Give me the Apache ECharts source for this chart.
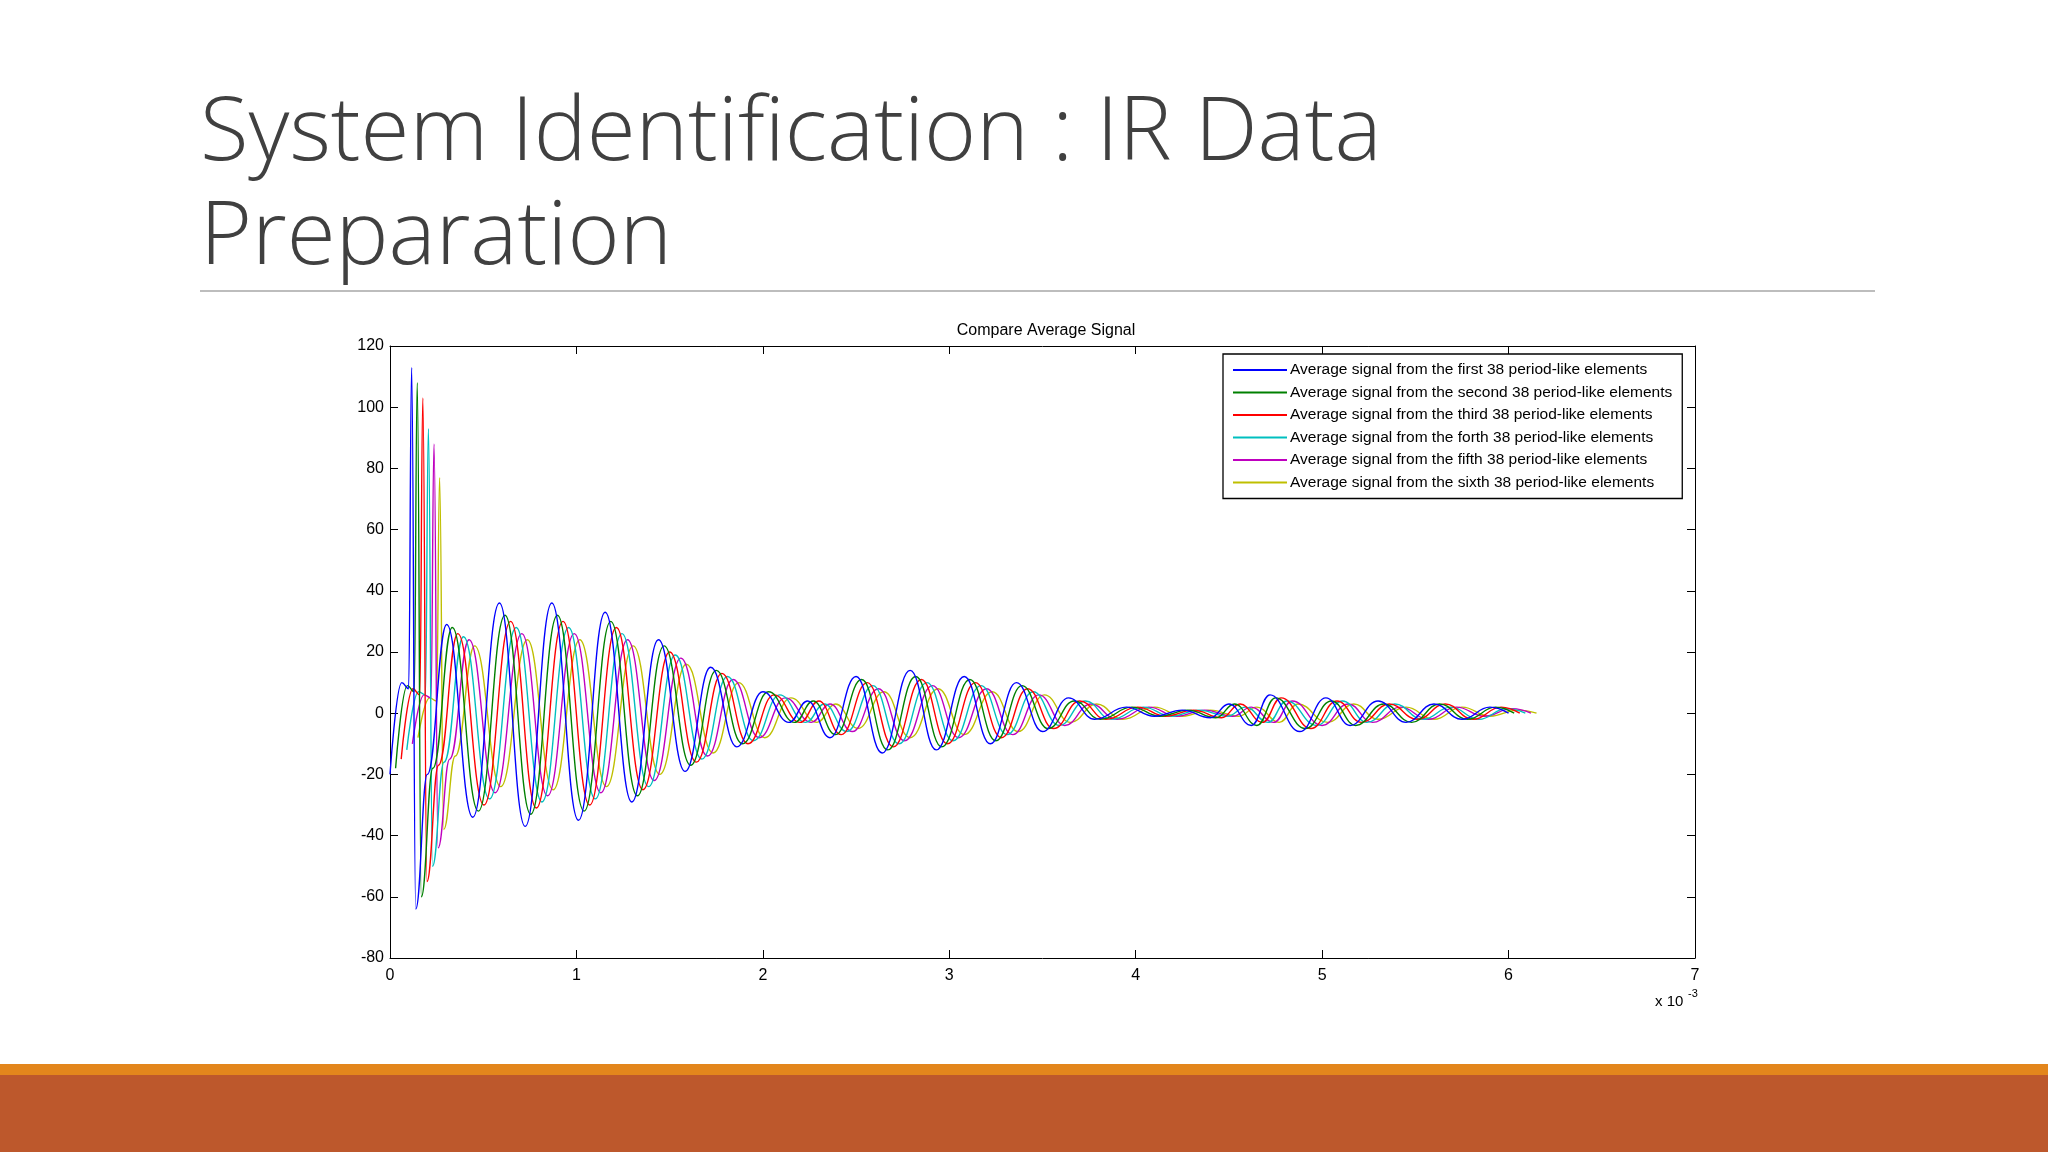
<!DOCTYPE html>
<html><head><meta charset="utf-8">
<script src="https://cdn.jsdelivr.net/npm/echarts@6/dist/echarts.min.js"></script>
<style>
html,body{margin:0;padding:0;background:#fff;width:2048px;height:1152px;overflow:hidden;position:relative;font-family:Lato,"Open Sans",sans-serif}
#t{position:absolute;left:200px;top:74px;font-size:89px;line-height:104px;color:#404040;font-weight:300;font-family:"Open Sans",Lato,sans-serif}
#hr{position:absolute;left:200px;top:290px;width:1675px;height:2px;background:#bdbdbd}
#b1{position:absolute;left:0;top:1064px;width:2048px;height:11px;background:#e3861c}
#b2{position:absolute;left:0;top:1075px;width:2048px;height:77px;background:#bd582c}
#c{position:absolute;left:0;top:0;width:2048px;height:1064px}
</style></head><body>
<div id="t">System Identification : IR Data<br>Preparation</div>
<div id="hr"></div>
<div id="c"></div>
<div id="b1"></div><div id="b2"></div>
<script>
const seriesNames = [
 "Average signal from the first 38 period-like elements",
 "Average signal from the second 38 period-like elements",
 "Average signal from the third 38 period-like elements",
 "Average signal from the forth 38 period-like elements",
 "Average signal from the fifth 38 period-like elements",
 "Average signal from the sixth 38 period-like elements"];
const colors = ["#0000ff","#008000","#ff0000","#00bfbf","#bf00bf","#bfbf00"];
const times = [0,0.063,0.10,0.116,0.138,0.2,0.304,0.444,0.587,0.725,0.868,1.011,1.154,1.297,1.44,1.583,1.72,1.86,2.0,2.14,2.24,2.36,2.5,2.64,2.79,2.93,3.08,3.22,3.36,3.5,3.64,3.78,3.95,4.1,4.25,4.4,4.5,4.62,4.72,4.88,5.02,5.15,5.3,5.45,5.6,5.75,5.9,6.0];
const timeOffsets = [0,0.03,0.06,0.09,0.12,0.15];
const blue = [-20,10,8,113,-64,-20,29,-34,36,-37,36,-35,33,-29,24,-19,15,-11,7,-3,4,-8,12,-13,14,-12,12,-10,10,-6,5,-2,2,-1,1,-1.5,3,-4,6,-6,5,-4,4,-3,3,-2,2,0];
const green = [-18,9,7,108,-60,-18,28,-32,32,-33,32,-32,30,-27,22,-17,14,-10,7,-3,4,-7,11,-12,12,-11,11,-9,9,-5,4,-2,2,-1,1,-1.5,3,-4,5,-5,4,-4,3,-3,3,-2,2,0];
const red = [-15,8,6,103,-55,-17,26,-30,30,-31,30,-30,28,-25,20,-16,13,-10,6,-3,4,-7,10,-11,11,-10,10,-8,8,-5,4,-2,2,-1,1,-1.5,3,-3,5,-5,4,-3,3,-2,3,-2,2,0];
const cyan = [-12,7,6,93,-50,-16,25,-28,28,-29,28,-28,26,-24,19,-15,12,-9,6,-3,3,-6,9,-10,10,-9,9,-7,7,-4,4,-2,2,-1,1,-1,2,-3,4,-4,4,-3,3,-2,2,-2,1.5,0];
const magenta = [-10,6,5,88,-44,-15,24,-26,26,-27,26,-26,24,-22,18,-14,11,-8,5,-3,3,-6,8,-9,9,-8,8,-7,6,-4,3,-2,2,-1,1,-1,2,-3,4,-4,3,-3,2,-2,2,-1,1.5,0];
const yellow = [-8,5,4,77,-38,-14,22,-24,24,-25,24,-24,22,-20,16,-13,10,-8,5,-3,3,-5,7,-8,8,-7,7,-6,6,-3,3,-2,2,-1,1,-1,2,-3,3,-3,3,-2,2,-2,2,-1,1,0];
const allValues = [blue,green,red,cyan,magenta,yellow];
const xTicks = [0,1,2,3,4,5,6,7];
const yTicks = [-80,-60,-40,-20,0,20,40,60,80,100,120];

const F = "Liberation Sans, Arial, sans-serif";
const chart = echarts.init(document.getElementById('c'));
const axisCommon = {min:0,max:7,interval:1,axisLine:{onZero:false,lineStyle:{color:'#000'}},splitLine:{show:false},
  axisTick:{inside:true,length:8,lineStyle:{color:'#000'}}};
const yCommon = {min:-80,max:120,interval:20,axisLine:{show:true,onZero:false,lineStyle:{color:'#000'}},splitLine:{show:false},
  axisTick:{show:true,inside:true,length:8,lineStyle:{color:'#000'}}};
chart.setOption({
  animation:false,
  title:{text:'Compare Average Signal',left:1041,textAlign:'center',top:318,textStyle:{fontFamily:F,fontSize:16,fontWeight:'normal',color:'#000'}},
  grid:{left:390,right:353,top:346,bottom:106},
  legend:{orient:'vertical',left:1223,top:354,padding:[8,10,8,10],itemGap:6.5,itemWidth:54,itemHeight:2,
    borderColor:'#000',borderWidth:1.3,backgroundColor:'#fff',icon:'rect',
    textStyle:{fontFamily:F,fontSize:15.5,color:'#000',padding:[0,0,0,-2]},data:seriesNames},
  xAxis:[Object.assign({type:'value',position:'bottom',axisLabel:{fontFamily:F,fontSize:16,color:'#000',margin:10}},axisCommon),
         Object.assign({type:'value',position:'top',axisLabel:{show:false}},axisCommon)],
  yAxis:[Object.assign({type:'value',position:'left',axisLabel:{fontFamily:F,fontSize:16,color:'#000',margin:6}},yCommon),
         Object.assign({type:'value',position:'right',axisLabel:{show:false}},yCommon)],
  graphic:[{type:'text',left:1655,top:994,style:{text:'x 10',font:'15px '+F,fill:'#000'}},
           {type:'text',left:1688,top:988,style:{text:'-3',font:'11px '+F,fill:'#000'}}],
  series: allValues.map((vals,i)=>({
    name:seriesNames[i],type:'line',showSymbol:false,smooth:0.45,smoothMonotone:'x',
    lineStyle:{width:1.4,color:colors[i]},itemStyle:{color:colors[i]},z:10-i,
    data:vals.map((v,j)=>[times[j]+timeOffsets[i],v])
  }))
});
</script></body></html>
